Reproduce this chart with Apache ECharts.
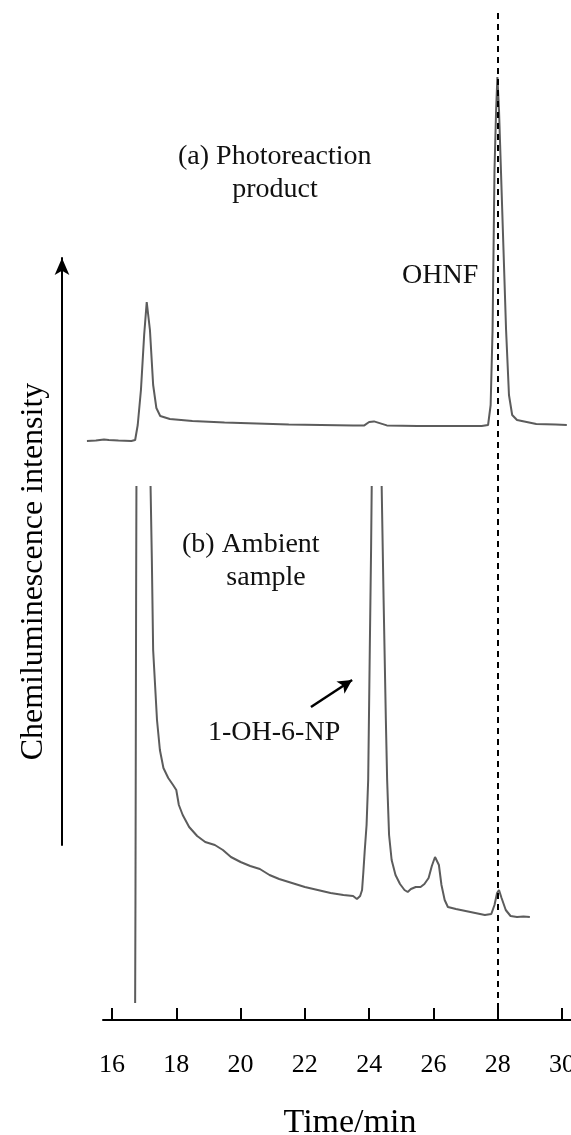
<!DOCTYPE html>
<html><head><meta charset="utf-8">
<script src="https://cdn.jsdelivr.net/npm/echarts@6/dist/echarts.min.js"></script>
<style>html,body{margin:0;padding:0;background:#fff}#c{width:571px;height:1135px}</style>
</head><body><div id="c"></div>
<script>
// ---- data ----
const xTicks = [16, 18, 20, 22, 24, 26, 28, 30];
// (a) Photoreaction product
const timeA = [15.22,15.5,15.75,15.9,16.2,16.6,16.72,16.8,16.9,17.0,17.08,17.18,17.28,17.38,17.5,17.8,18.5,19.5,20.5,21.5,22.5,23.5,23.85,24.0,24.15,24.35,24.55,25.5,26.5,27.5,27.7,27.78,27.84,27.87,27.9,27.95,27.99,28.04,28.1,28.18,28.26,28.35,28.45,28.6,29.2,29.8,30.15];
const intensityA = [0,0.1,0.4,0.25,0.1,0,0.25,4,12.75,26.5,34.75,27.75,14,8.25,6.25,5.5,5,4.6,4.4,4.1,4,3.9,3.9,4.75,4.9,4.4,3.9,3.75,3.75,3.75,4,9,27.75,47.75,67.75,82.75,91,82.75,67.75,47.75,27.75,11.5,6.5,5.25,4.25,4.1,4];
// (b) Ambient sample (main peaks go off scale)
const timeB = [16.72,16.73,16.74,16.75,16.76,16.97,17.2,17.24,17.28,17.4,17.49,17.6,17.75,17.9,18.0,18.08,18.2,18.4,18.65,18.9,19.2,19.45,19.7,20.0,20.3,20.6,20.9,21.2,21.6,22.0,22.4,22.8,23.2,23.5,23.62,23.72,23.78,23.82,23.86,23.92,23.97,24.02,24.06,24.08,24.24,24.39,24.45,24.52,24.56,24.62,24.7,24.82,24.96,25.1,25.2,25.3,25.45,25.6,25.72,25.85,25.95,26.05,26.1,26.17,26.25,26.35,26.45,26.7,27.0,27.3,27.6,27.8,27.9,27.98,28.04,28.12,28.25,28.4,28.6,28.8,29.0];
const intensityB = [3.4,24,54,84,106.6,300,106.6,92,74,60,54,50.4,48.4,47,46,43,41,38.6,36.8,35.6,35,34,32.6,31.6,30.8,30.2,29,28.2,27.4,26.6,26,25.4,25,24.8,24.2,24.8,26,29.6,33.6,39,48,74,94,106.6,300,106.6,84,60,48,37,32,29,27.2,26,25.6,26.2,26.6,26.6,27.2,28.4,30.8,32.6,33,31,27,24,22.6,22.2,21.8,21.4,21,21.2,23,25.4,26,24.4,22,20.8,20.6,20.7,20.6];
const markerTime = 28;
const arrowFrom = [22.19, 62.6];
const arrowTo = [23.47, 68];
const labels = {
  a1: '(a) Photoreaction', a2: 'product', ohnf: 'OHNF',
  b1: '(b) Ambient', b2: 'sample', np: '1-OH-6-NP'
};

const FONT = '"Liberation Serif","Times New Roman",serif';
const zip = (t, v) => t.map((x, i) => [x, v[i]]);
const chart = echarts.init(document.getElementById('c'));
const txt = (text, x, y, align) => ({
  type: 'text', x: x, y: y,
  style: { text: text, font: '28px ' + FONT, fill: '#111', textAlign: align || 'left', textVerticalAlign: 'middle' }
});
chart.setOption({
  animation: false,
  backgroundColor: '#fff',
  grid: [
    { left: 80, right: 0, top: 13, bottom: 115, outerBoundsMode: 'none' },
    { left: 103, right: 0, top: 487, bottom: 115, outerBoundsMode: 'none' },
    { left: 62, width: 10, top: 258, height: 587, outerBoundsMode: 'none' }
  ],
  xAxis: [
    { gridIndex: 0, type: 'value', min: 15.004, max: 30.28, show: false },
    { gridIndex: 1, type: 'value', min: 15.72, max: 30.28,
      axisLine: { lineStyle: { color: '#000', width: 2 } },
      axisTick: { inside: true, length: 12, customValues: xTicks, lineStyle: { color: '#000', width: 2 } },
      axisLabel: { customValues: xTicks, color: '#000', fontFamily: FONT, fontSize: 26, margin: 32 },
      splitLine: { show: false },
      name: 'Time/min', nameLocation: 'middle', nameGap: 86,
      nameTextStyle: { color: '#000', fontFamily: FONT, fontSize: 34, padding: [0, 0, 0, 26] } },
    { gridIndex: 2, type: 'value', show: false }
  ],
  yAxis: [
    { gridIndex: 0, type: 'value', min: -144.75, max: 107, show: false },
    { gridIndex: 1, type: 'value', min: 0, max: 106.6, show: false },
    { gridIndex: 2, type: 'value', min: 0, max: 1,
      axisLine: { show: true, symbol: ['none', 'arrow'], symbolSize: [11, 17], lineStyle: { color: '#000', width: 2 } },
      axisTick: { show: false }, axisLabel: { show: false }, splitLine: { show: false },
      name: 'Chemiluminescence intensity', nameLocation: 'middle', nameGap: 12, nameRotate: 90,
      nameTextStyle: { color: '#000', fontFamily: FONT, fontSize: 32, padding: [0, 40, 0, 0] } }
  ],
  series: [
    { type: 'line', xAxisIndex: 0, yAxisIndex: 0, data: zip(timeA, intensityA), showSymbol: false, clip: false,
      lineStyle: { color: '#5c5c5c', width: 2 },
      markLine: { silent: true, symbol: 'none', label: { show: false },
        lineStyle: { color: '#000', width: 2, type: [6, 5] }, data: [{ xAxis: markerTime }] } },
    { type: 'line', xAxisIndex: 1, yAxisIndex: 1, data: zip(timeB, intensityB), showSymbol: false, clip: true,
      lineStyle: { color: '#5c5c5c', width: 2 },
      markLine: { silent: true, symbol: ['none', 'arrow'], symbolSize: [11, 14], label: { show: false },
        lineStyle: { color: '#000', width: 2.5, type: 'solid' },
        data: [[{ coord: arrowFrom }, { coord: arrowTo }]] } }
  ],
  graphic: [
    txt(labels.a1, 178, 157),
    txt(labels.a2, 275, 190, 'center'),
    txt(labels.ohnf, 402, 276),
    txt(labels.b1, 182, 545),
    txt(labels.b2, 266, 578, 'center'),
    txt(labels.np, 208, 733)
  ]
});
</script>
</body></html>
